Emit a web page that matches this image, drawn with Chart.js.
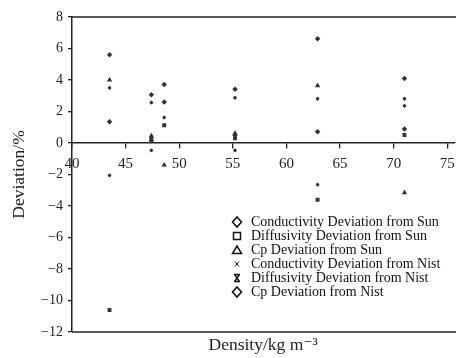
<!DOCTYPE html>
<html>
<head>
<meta charset="utf-8">
<script src="https://cdn.jsdelivr.net/npm/chart.js@4/dist/chart.umd.min.js"></script>
<style>
  html, body { margin: 0; padding: 0; background: #fff; overflow: hidden; }
  #wrap { width: 462px; height: 358px; position: relative; }
</style>
</head>
<body>
<div id="wrap"><canvas id="c" width="462" height="358"></canvas></div>
<script>
// Density of each measured sample, kg m^-3
const densities = [43.5, 47.4, 48.6, 55.2, 62.9, 71.0];

// Deviation (%) of each property against the two reference sources
const condSun = [5.6, 3.06, 3.72, 3.42, 6.62, 4.1];
const diffSun = [-10.6, 0.3, 1.13, 0.3, -3.6, 0.51];
const cpSun   = [4.0, 0.45, -1.4, 0.62, 3.64, -3.15];
const condNist = [3.5, 2.57, 2.6, 2.87, 2.81, 2.81];
const diffNist = [-2.05, -0.47, 1.62, -0.47, -2.64, 2.36];
const cpNist   = [1.35, 0.15, 2.6, 0.49, 0.72, 0.89];

const seriesNames = [
  'Conductivity Deviation from Sun',
  'Diffusivity Deviation from Sun',
  'Cp Deviation from Sun',
  'Conductivity Deviation from Nist',
  'Diffusivity Deviation from Nist',
  'Cp Deviation from Nist'
];
const seriesValues = [condSun, diffSun, cpSun, condNist, diffNist, cpNist];
const markerStyles = ['rectRot', 'rect', 'triangle', 'crossRot', 'crossRot', 'rectRot'];
const legendSymbols = ['diamond', 'square', 'triangle', 'x', 'hourglass', 'diamond'];

const xTicks = [40, 45, 50, 55, 60, 65, 70, 75];
const yTicks = [8, 6, 4, 2, 0, -2, -4, -6, -8, -10, -12];

const INK = '#222';
const SERIF = "'Liberation Serif', 'DejaVu Serif', serif";

const datasets = seriesNames.map((name, k) => ({
  label: name,
  data: densities.map((d, i) => ({ x: d, y: seriesValues[k][i] })),
  pointStyle: markerStyles[k],
  pointRadius: markerStyles[k] === 'crossRot' ? 1.6 : 1.9,
  pointBorderWidth: markerStyles[k] === 'crossRot' ? 2.2 : 1.2,
  backgroundColor: '#333',
  borderColor: '#333',
  showLine: false
}));

// Frame lines along the top and bottom of the plotting area
const framePlugin = {
  id: 'frame',
  afterDraw(chart) {
    const { ctx, chartArea: a } = chart;
    ctx.save();
    ctx.strokeStyle = INK;
    ctx.lineWidth = 1.5;
    ctx.beginPath();
    ctx.moveTo(a.left, a.top); ctx.lineTo(chart.width, a.top);
    ctx.moveTo(a.left, a.bottom); ctx.lineTo(chart.width, a.bottom);
    ctx.stroke();
    ctx.restore();
  }
};

function drawSymbol(ctx, kind, x, y) {
  ctx.beginPath();
  if (kind === 'diamond') {
    ctx.lineWidth = 1.6;
    ctx.moveTo(x, y - 5); ctx.lineTo(x + 4.5, y); ctx.lineTo(x, y + 5); ctx.lineTo(x - 4.5, y); ctx.closePath();
  } else if (kind === 'square') {
    ctx.lineWidth = 1.5;
    ctx.rect(x - 3.5, y - 3.5, 7, 7);
  } else if (kind === 'triangle') {
    ctx.lineWidth = 1.5;
    ctx.moveTo(x, y - 4); ctx.lineTo(x + 4.5, y + 3.5); ctx.lineTo(x - 4.5, y + 3.5); ctx.closePath();
  } else if (kind === 'x') {
    ctx.lineWidth = 1;
    ctx.moveTo(x - 2.2, y - 2.5); ctx.lineTo(x + 2.2, y + 2.5);
    ctx.moveTo(x + 2.2, y - 2.5); ctx.lineTo(x - 2.2, y + 2.5);
  } else if (kind === 'hourglass') {
    ctx.lineWidth = 1.4;
    ctx.moveTo(x - 3, y - 3.5); ctx.lineTo(x + 3, y - 3.5);
    ctx.moveTo(x - 3, y + 3.5); ctx.lineTo(x + 3, y + 3.5);
    ctx.moveTo(x - 2.5, y - 3.5); ctx.lineTo(x + 2.5, y + 3.5);
    ctx.moveTo(x + 2.5, y - 3.5); ctx.lineTo(x - 2.5, y + 3.5);
  }
  ctx.stroke();
}

// Key in the lower right of the plot
const keyPlugin = {
  id: 'key',
  afterDraw(chart) {
    const { ctx, chartArea: a } = chart;
    const x0 = a.left + 165, y0 = a.top + 205, step = 14;
    ctx.save();
    ctx.strokeStyle = '#111';
    ctx.fillStyle = '#111';
    ctx.font = '14px ' + SERIF;
    ctx.textBaseline = 'middle';
    ctx.textAlign = 'left';
    seriesNames.forEach((name, k) => {
      const y = y0 + k * step;
      drawSymbol(ctx, legendSymbols[k], x0, y);
      ctx.fillText(name, x0 + 14, y + 0.5);
    });
    ctx.restore();
  }
};

new Chart(document.getElementById('c'), {
  type: 'scatter',
  data: { datasets },
  options: {
    responsive: false,
    animation: false,
    layout: { padding: { top: 17, right: 0, bottom: 0, left: 0 } },
    plugins: {
      legend: { display: false },
      tooltip: { enabled: false },
      title: {
        display: true,
        position: 'bottom',
        fullSize: false,
        text: 'Density/kg m\u207B\u00B3',
        color: INK,
        font: { family: SERIF, size: 17.5, weight: 'normal' },
        padding: { top: 3, bottom: 2 }
      }
    },
    scales: {
      x: {
        type: 'linear',
        position: { y: 0 },
        min: 40,
        max: 75.65,
        afterBuildTicks: s => { s.ticks = xTicks.map(v => ({ value: v })); },
        ticks: { color: INK, font: { family: SERIF, size: 15 }, padding: 7 },
        grid: { drawOnChartArea: false, drawTicks: true, tickLength: 5, color: INK, lineWidth: 1.3 },
        border: { display: true, color: INK, width: 1.5 }
      },
      y: {
        min: -12,
        max: 8,
        afterBuildTicks: s => { s.ticks = yTicks.map(v => ({ value: v })); },
        afterFit: s => { s.width = 72; },
        ticks: {
          color: INK,
          font: { family: SERIF, size: 14 },
          padding: 5,
          callback: v => String(v).replace('-', '\u2212')
        },
        grid: { drawOnChartArea: false, drawTicks: true, tickLength: 4, color: INK, lineWidth: 1.3 },
        border: { display: true, color: INK, width: 1.5 },
        title: {
          display: true,
          text: 'Deviation/%',
          color: INK,
          font: { family: SERIF, size: 17.5 },
          padding: { top: 9, bottom: 0 }
        }
      }
    }
  },
  plugins: [framePlugin, keyPlugin]
});
</script>
</body>
</html>
